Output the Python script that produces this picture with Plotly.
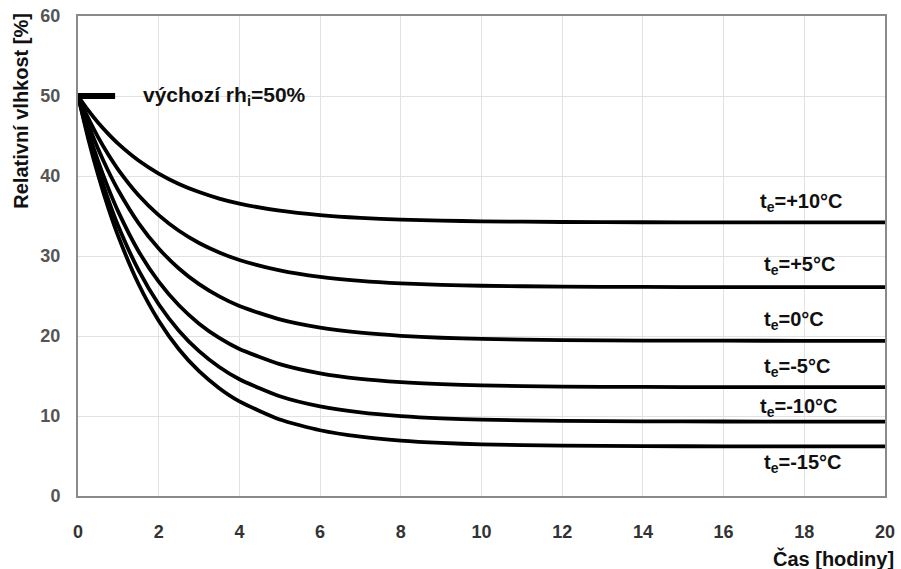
import plotly.graph_objects as go

# time [hours]
t = [0, 0.25, 0.5, 0.75, 1, 1.5, 2, 2.5, 3, 3.5, 4, 5, 6, 7, 8, 9, 10, 12, 14, 16, 18, 20]

# relative humidity [%] for each exterior temperature
rh_p10 = [50, 48.23, 46.65, 45.26, 44.01, 41.93, 40.30, 39.00, 37.99, 37.18, 36.55, 35.66, 35.11, 34.76, 34.55, 34.42, 34.34, 34.25, 34.22, 34.21, 34.20, 34.20]
rh_p5 = [50, 47.26, 44.83, 42.68, 40.77, 37.60, 35.11, 33.16, 31.63, 30.44, 29.50, 28.19, 27.38, 26.89, 26.58, 26.40, 26.28, 26.17, 26.13, 26.11, 26.10, 26.10]
rh_0 = [50, 46.49, 43.38, 40.62, 38.19, 34.12, 30.94, 28.44, 26.48, 24.95, 23.75, 22.07, 21.04, 20.41, 20.02, 19.78, 19.63, 19.49, 19.43, 19.41, 19.40, 19.40]
rh_m5 = [50, 45.66, 41.84, 38.48, 35.51, 30.60, 26.79, 23.84, 21.54, 19.76, 18.38, 16.48, 15.33, 14.64, 14.23, 13.98, 13.83, 13.68, 13.63, 13.61, 13.60, 13.60]
rh_m10 = [50, 45.12, 40.83, 37.06, 33.73, 28.23, 23.97, 20.67, 18.11, 16.13, 14.59, 12.47, 11.20, 10.44, 9.99, 9.71, 9.55, 9.39, 9.33, 9.31, 9.30, 9.30]
rh_m15 = [50, 44.73, 40.09, 36.01, 32.43, 26.50, 21.91, 18.35, 15.60, 13.48, 11.83, 9.57, 8.22, 7.41, 6.92, 6.63, 6.46, 6.29, 6.23, 6.21, 6.20, 6.20]

series = [rh_p10, rh_p5, rh_0, rh_m5, rh_m10, rh_m15]
labels = ["t<sub>e</sub>=+10°C", "t<sub>e</sub>=+5°C", "t<sub>e</sub>=0°C",
          "t<sub>e</sub>=-5°C", "t<sub>e</sub>=-10°C", "t<sub>e</sub>=-15°C"]
label_x = [16.85, 16.95, 16.95, 16.95, 16.85, 16.95]
label_y = [36.7, 28.8, 22.0, 16.1, 11.1, 4.1]

start_x = [0, 0.92]
start_y = [50, 50]
start_text = "výchozí rh<sub>i</sub>=50%"

x_ticks = list(range(0, 21, 2))
y_ticks = list(range(0, 61, 10))

FONT = "Liberation Sans, Arial, sans-serif"

fig = go.Figure()
for s in series:
    fig.add_trace(go.Scatter(x=t, y=s, mode="lines",
                             line=dict(color="black", width=3.8, shape="spline", smoothing=0.6),
                             showlegend=False, hoverinfo="skip"))
fig.add_trace(go.Scatter(x=start_x, y=start_y, mode="lines",
                         line=dict(color="black", width=6), showlegend=False, hoverinfo="skip",
                         cliponaxis=False))

for lx, ly, lt in zip(label_x, label_y, labels):
    fig.add_annotation(x=lx, y=ly, xref="x", yref="y", text=lt, showarrow=False,
                       xanchor="left", yanchor="middle",
                       font=dict(family=FONT, size=20, color="#111", weight="bold"))

fig.add_annotation(x=1.55, y=50, xref="x", yref="y", text=start_text, showarrow=False,
                   xanchor="left", yanchor="middle",
                   font=dict(family=FONT, size=21, color="#111", weight="bold"))

fig.add_annotation(x=1.0, y=-0.13, xref="paper", yref="paper", text="Čas [hodiny]",
                   showarrow=False, xanchor="right", yanchor="middle", xshift=11,
                   font=dict(family=FONT, size=20, color="#111", weight="bold"))

fig.add_annotation(x=-0.07, y=1.01, xref="paper", yref="paper", text="Relativní vlhkost [%]",
                   showarrow=False, textangle=-90, xanchor="center", yanchor="top",
                   font=dict(family=FONT, size=20, color="#111", weight="bold"))

fig.update_layout(
    width=901, height=569,
    margin=dict(l=78, r=6, t=10, b=73),
    paper_bgcolor="white", plot_bgcolor="white",
    font=dict(family=FONT),
)
fig.update_xaxes(range=[0, 20], tickvals=x_ticks, showgrid=True, gridcolor="#e2e2e2", gridwidth=1,
                 showline=True, linecolor="#8a8a8a", linewidth=2, mirror=True, zeroline=False,
                 ticks="", ticklen=0, ticklabelstandoff=18, ticklabeloverflow="allow",
                 tickfont=dict(family=FONT, size=18, color="#333", weight="bold"))
fig.update_yaxes(range=[0, 60], tickvals=y_ticks, showgrid=True, gridcolor="#e2e2e2", gridwidth=1,
                 showline=True, linecolor="#8a8a8a", linewidth=2, mirror=True, zeroline=False,
                 ticks="", ticklen=0, ticklabelstandoff=12, ticklabeloverflow="allow",
                 tickfont=dict(family=FONT, size=18, color="#555", weight="bold"))

fig.write_html("out.html")
